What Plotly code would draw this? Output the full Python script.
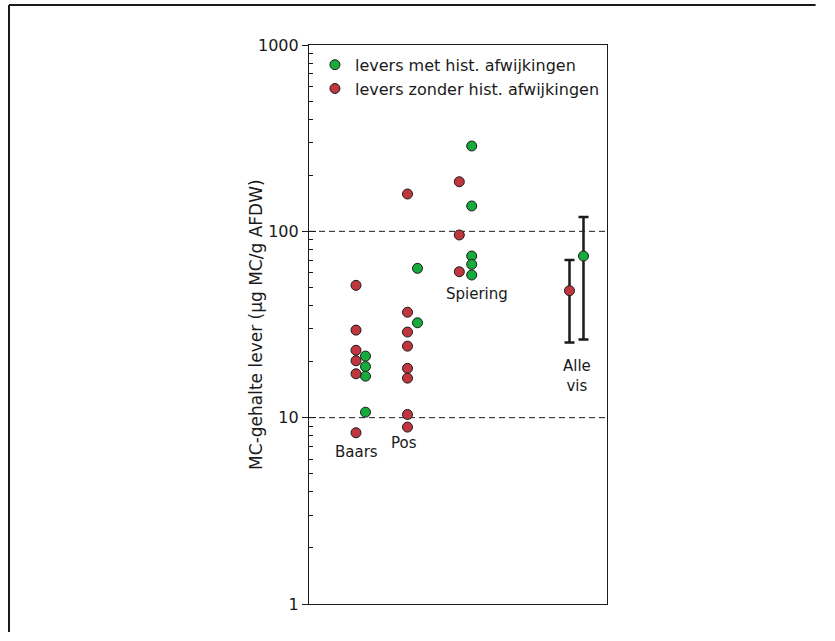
import plotly.graph_objects as go

# MC content per fish liver (µg MC/g AFDW)
groups = ["Baars", "Pos", "Spiering"]
with_lesions = {
    "Baars": [21.4, 18.8, 16.7, 10.7],
    "Pos": [63.3, 32.3],
    "Spiering": [287, 136.8, 73.7, 66.5, 58.3],
}
without_lesions = {
    "Baars": [51.3, 29.5, 23.0, 20.2, 17.2, 8.3],
    "Pos": [158.6, 36.8, 28.8, 24.2, 18.4, 16.3, 10.4, 8.9],
    "Spiering": [184.6, 95.6, 60.7],
}
# all fish pooled: central value with upper and lower bound
all_with = [73.7]
all_with_hi = [119.4]
all_with_lo = [26.3]
all_without = [48.0]
all_without_hi = [70.2]
all_without_lo = [25.3]

legend_with = "levers met hist. afwijkingen"
legend_without = "levers zonder hist. afwijkingen"
y_title = "MC-gehalte lever (µg MC/g AFDW)"

# layout constants (x positions in group units)
group_center = {"Baars": 1.035, "Pos": 2.07, "Spiering": 3.13, "Alle vis": 5.35}
half_gap = {"Baars": 0.095, "Pos": 0.1, "Spiering": 0.124, "Alle vis": 0.14}
label_x = {"Baars": 0.94, "Pos": 1.9, "Spiering": 3.35, "Alle vis": 5.36}

GREEN = "#17ab3c"
RED = "#c0363f"
INK = "#1a1a1a"
FONT = "DejaVu Sans"

def xs(group, side, n):
    return [group_center[group] + side * half_gap[group]] * n

gx, gy, rx, ry = [], [], [], []
for g in groups:
    gx += xs(g, +1, len(with_lesions[g]))
    gy += with_lesions[g]
    rx += xs(g, -1, len(without_lesions[g]))
    ry += without_lesions[g]

marker_line = dict(color=INK, width=1)

fig = go.Figure()
fig.add_trace(go.Scatter(
    x=gx, y=gy, mode="markers", name=legend_with,
    marker=dict(color=GREEN, size=10, line=marker_line)))
fig.add_trace(go.Scatter(
    x=rx, y=ry, mode="markers", name=legend_without,
    marker=dict(color=RED, size=10, line=marker_line)))

def pooled(values, hi, lo, side, color):
    return go.Scatter(
        x=xs("Alle vis", side, len(values)), y=values, mode="markers",
        showlegend=False,
        marker=dict(color=color, size=10, line=marker_line),
        error_y=dict(type="data", symmetric=False,
                     array=[h - v for h, v in zip(hi, values)],
                     arrayminus=[v - l for l, v in zip(lo, values)],
                     color=INK, thickness=2.5, width=5))

fig.add_trace(pooled(all_without, all_without_hi, all_without_lo, -1, RED))
fig.add_trace(pooled(all_with, all_with_hi, all_with_lo, +1, GREEN))

# dashed reference lines at 10 and 100
for level in (10, 100):
    fig.add_shape(type="line", xref="paper", x0=0, x1=1, yref="y", y0=level, y1=level,
                  line=dict(color=INK, width=1, dash="6px,4px"), layer="below")

# outer frame: top and left edges, kept inside the page
frame_left, frame_top = -1.0067, 1.0716
fig.add_shape(type="line", xref="paper", yref="paper",
              x0=frame_left, x1=1.70, y0=frame_top, y1=frame_top,
              line=dict(color=INK, width=2))
fig.add_shape(type="line", xref="paper", yref="paper",
              x0=frame_left, x1=frame_left, y0=frame_top, y1=-0.05,
              line=dict(color=INK, width=2))

def label(text, group, ypix):
    fig.add_annotation(x=label_x[group], y=(604 - ypix) / 186.33,
                       xref="x", yref="y", text=text, showarrow=False,
                       xanchor="center", yanchor="middle",
                       font=dict(family=FONT, size=15, color=INK))

label("Baars", "Baars", 452)
label("Pos", "Pos", 443)
label("Spiering", "Spiering", 294)
label("Alle<br>vis", "Alle vis", 376)

fig.add_annotation(x=-0.178, y=0.501, xref="paper", yref="paper", text=y_title,
                   textangle=-90, showarrow=False, xanchor="center", yanchor="middle",
                   font=dict(family=FONT, size=17, color=INK))

fig.update_layout(
    width=835, height=641,
    margin=dict(l=309, r=228, t=45, b=37),
    paper_bgcolor="white", plot_bgcolor="white",
    font=dict(family=FONT, color=INK),
    legend=dict(x=0.02, y=0.995, xanchor="left", yanchor="top",
                bgcolor="rgba(0,0,0,0)", font=dict(family=FONT, size=16, color=INK),
                itemwidth=30, tracegroupgap=0),
    xaxis=dict(range=[0, 5.96], showticklabels=False, ticks="", showgrid=False,
               zeroline=False, showline=True, linecolor=INK, linewidth=1.2, mirror=True),
    yaxis=dict(type="log", range=[0, 3], tickvals=[1, 10, 100, 1000],
               ticktext=["1", "10", "100", "1000"],
               ticks="outside", ticklen=6, tickwidth=1.2, tickcolor=INK,
               tickfont=dict(family=FONT, size=16, color=INK),
               showgrid=False, zeroline=False, showline=True, linecolor=INK,
               linewidth=1.2, mirror=True,
               minor=dict(ticks="inside", ticklen=4, tickwidth=1, tickcolor=INK,
                          tickvals=[m * d for d in (1, 10, 100) for m in range(2, 10)],
                          showgrid=False)),
    yaxis2=dict(type="log", range=[0, 3], overlaying="y", side="left",
                tickvals=[1, 10, 100, 1000], showticklabels=False,
                ticks="inside", ticklen=7, tickwidth=1.2, tickcolor=INK,
                showgrid=False, zeroline=False, showline=False),
)
# an empty trace keeps the inner major ticks axis drawn
fig.add_trace(go.Scatter(x=[None], y=[None], yaxis="y2", showlegend=False, hoverinfo="skip"))

fig.write_html("out.html")
